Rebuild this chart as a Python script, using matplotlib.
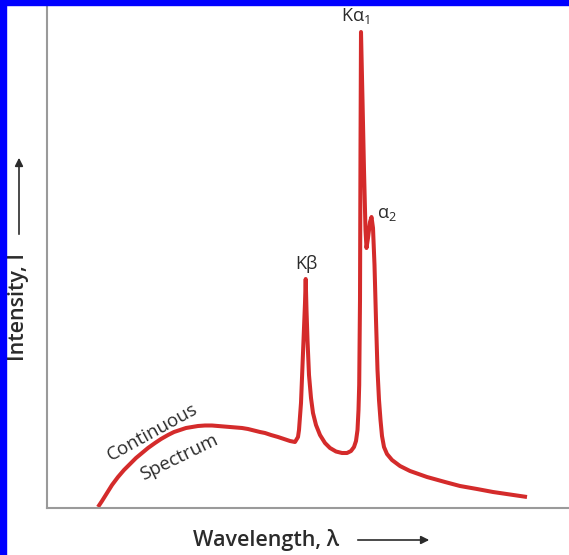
import matplotlib
matplotlib.use("Agg")
import matplotlib.pyplot as plt
from matplotlib.patches import Rectangle

plt.rcParams["font.family"] = ["Open Sans", "DejaVu Sans"]
plt.rcParams["mathtext.fontset"] = "custom"
plt.rcParams["mathtext.rm"] = "Open Sans"
plt.rcParams["mathtext.it"] = "Open Sans:italic"
plt.rcParams["mathtext.bf"] = "Open Sans:bold"

# Spectrum (arbitrary units)
continuum_x = [51, 55, 60, 65, 71, 77, 83, 89, 95, 101, 108, 114, 121, 127, 133, 139, 145, 151,
               158, 165, 171, 177, 183, 189, 195, 201, 207, 213, 218, 224, 231, 237, 243, 248]
continuum_y = [1, 7, 15, 23, 31, 38, 44, 50, 55, 60, 65, 69, 73, 76, 78, 80, 81, 82,
               82.5, 82.5, 82, 81.5, 81, 80.5, 80, 79, 77.5, 76, 75, 73, 71, 69, 67, 66]

kbeta_x = [251, 252, 254, 256, 258, 258.7,
           259.5, 260.5, 262, 264, 266, 269, 273, 278, 283, 289, 295, 300, 304, 307, 309,
           310.5, 311.5, 312.2, 313, 313.5, 314]
kbeta_y = [71, 78, 105, 155, 205, 229,
           198, 168, 133, 110, 95, 83, 73, 65, 60, 56.5, 55, 55, 57, 61, 67,
           78, 98, 123, 208, 358, 476]

kalpha_x = [315.5, 317, 318.5, 319.5, 321, 323, 324.5, 326, 327.5, 329, 330.5, 332, 333.5,
            335, 337, 340, 345, 353, 363, 380, 398, 413, 430, 446, 463, 480]
kalpha_y = [408, 338, 278, 260, 270, 286, 291, 280, 243, 188, 138, 108, 88,
            72, 61, 54, 48, 42, 37, 31, 26, 22, 19, 16, 13.5, 11]

wavelength = continuum_x + kbeta_x + kalpha_x
intensity = continuum_y + kbeta_y + kalpha_y

text_color = "#2b2b2b"
line_color = "#d42b2b"

fig = plt.figure(figsize=(5.69, 5.55), dpi=100)
ax = fig.add_axes([47 / 569, 47 / 555, 522 / 569, 503 / 555])

ax.plot(wavelength, intensity, color=line_color, linewidth=2.9,
        solid_joinstyle="round", solid_capstyle="butt")

ax.set_xlim(0, 522)
ax.set_ylim(0, 503)
ax.set_xticks([])
ax.set_yticks([])
for side in ["top", "right"]:
    ax.spines[side].set_visible(False)
for side in ["left", "bottom"]:
    ax.spines[side].set_color("#9a9a9a")
    ax.spines[side].set_linewidth(1.5)

# Peak labels
ax.text(308, 492, r"K$\mathrm{\alpha}_{1}$", ha="center", va="center", fontsize=13, color=text_color)
ax.text(330, 294, r"$\mathrm{\alpha}_{2}$", ha="left", va="center", fontsize=13, color=text_color)
ax.text(259, 244, "Kβ", ha="center", va="center", fontsize=13, color=text_color)
ax.text(106, 76, "Continuous", ha="center", va="center", rotation=29, fontsize=13.5, color=text_color)
ax.text(132, 51, "Spectrum", ha="center", va="center", rotation=26, fontsize=13.5, color=text_color)

# Axis titles with arrows
fig.text(266 / 569, 15 / 555, "Wavelength, λ", ha="center", va="center",
         fontsize=15.5, fontweight="semibold", color=text_color)
ax.annotate("", xy=(432 / 569, 15 / 555), xytext=(355 / 569, 15 / 555),
            xycoords="figure fraction", textcoords="figure fraction",
            arrowprops=dict(arrowstyle="-|>", color=text_color, lw=1.2, mutation_scale=12))

fig.text(19 / 569, 248 / 555, "Intensity, I", ha="center", va="center", rotation=90,
         fontsize=15.5, fontweight="semibold", color=text_color)
ax.annotate("", xy=(19 / 569, 400 / 555), xytext=(19 / 569, 318 / 555),
            xycoords="figure fraction", textcoords="figure fraction",
            arrowprops=dict(arrowstyle="-|>", color=text_color, lw=1.2, mutation_scale=12))

# Blue slide frame on left and top
fig.patches.append(Rectangle((0, 0), 6 / 569, 1, transform=fig.transFigure, color="#0000ff", zorder=10))
fig.patches.append(Rectangle((0, 550 / 555), 1, 5 / 555, transform=fig.transFigure, color="#0000ff", zorder=10))

fig.savefig("out.png", dpi=100)
